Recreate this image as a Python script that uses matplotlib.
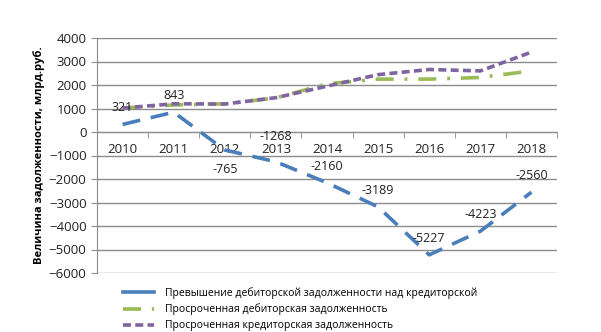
import matplotlib
matplotlib.use("Agg")
import matplotlib.pyplot as plt
from matplotlib.lines import Line2D
import numpy as np

years = ["2010", "2011", "2012", "2013", "2014", "2015", "2016", "2017", "2018"]
excess = [321, 843, -765, -1268, -2160, -3189, -5227, -4223, -2560]
overdue_recv = [1020, 1150, 1200, 1450, 2050, 2250, 2250, 2320, 2600]
overdue_pay = [1020, 1200, 1190, 1460, 1950, 2440, 2660, 2600, 3400]
label_pos = ["above", "above", "below", "above", "above", "above", "above", "above", "above"]

series_names = [
    "Превышение дебиторской задолженности над кредиторской",
    "Просроченная дебиторская задолженность",
    "Просроченная кредиторская задолженность",
]

plt.rcParams['font.family'] = ['Open Sans', 'DejaVu Sans']

fig = plt.figure(figsize=(6.01, 3.32), dpi=100)
ax = fig.add_axes([97/601, 1-273/332, (557-97)/601, (273-38)/332])

c1, c2, c3 = "#4A7EBB", "#9BBB59", "#8064A2"
x = np.arange(len(years))
ax.plot(x, excess, color=c1, lw=2.6, dashes=(5, 3), zorder=3)
ax.plot(x, overdue_recv, color=c2, lw=2.6, dashes=(5, 3, 0.8, 3), zorder=3)
ax.plot(x, overdue_pay, color=c3, lw=2.6, dashes=(2.2, 1.2), zorder=4)

for xi, v, pos in zip(x, excess, label_pos):
    off = 12 if pos == "above" else -14
    if v == -1268:
        off = 18
    ax.annotate(str(v), (xi, v), xytext=(0, off), textcoords="offset points",
                ha="center", va="center", fontsize=9, color="#222222", zorder=5)

ax.set_xlim(-0.5, len(years) - 0.5)
ax.set_ylim(-6000, 4000)
ax.set_yticks(np.arange(-6000, 4001, 1000))
ax.yaxis.grid(True, color="#8C8C8C", lw=1)
ax.set_axisbelow(True)

ax.spines['top'].set_visible(False)
ax.spines['right'].set_visible(False)
ax.spines['left'].set_color("#8C8C8C")
ax.spines['bottom'].set_color("#8C8C8C")
ax.spines['bottom'].set_position(('data', 0))

ax.set_xticks(x)
ax.set_xticklabels(years)
ax.set_xticks(np.arange(-0.5, len(years), 1), minor=True)
ax.tick_params(axis='x', which='major', length=0, pad=8, labelsize=9.5, colors="#222222")
ax.tick_params(axis='x', which='minor', length=4, color="#8C8C8C")
ax.tick_params(axis='y', length=4, color="#8C8C8C", labelsize=9.5, labelcolor="#222222")

ax.set_ylabel("Величина задолженности, млрд.руб.", fontsize=8, fontweight="bold", labelpad=3)

handles = [
    Line2D([], [], color=c1, lw=2.6),
    Line2D([], [], color=c2, lw=2.6, dashes=(5, 3, 0.8, 3)),
    Line2D([], [], color=c3, lw=2.6, dashes=(2.2, 1.2)),
]
fig.legend(handles=handles, labels=series_names, loc="upper left", bbox_to_anchor=(118/601, 1-282/332),
           frameon=False, fontsize=7.5, handlelength=3.0, labelspacing=0.45, handletextpad=1.0,
           borderpad=0)

fig.savefig("out.png", dpi=100)
